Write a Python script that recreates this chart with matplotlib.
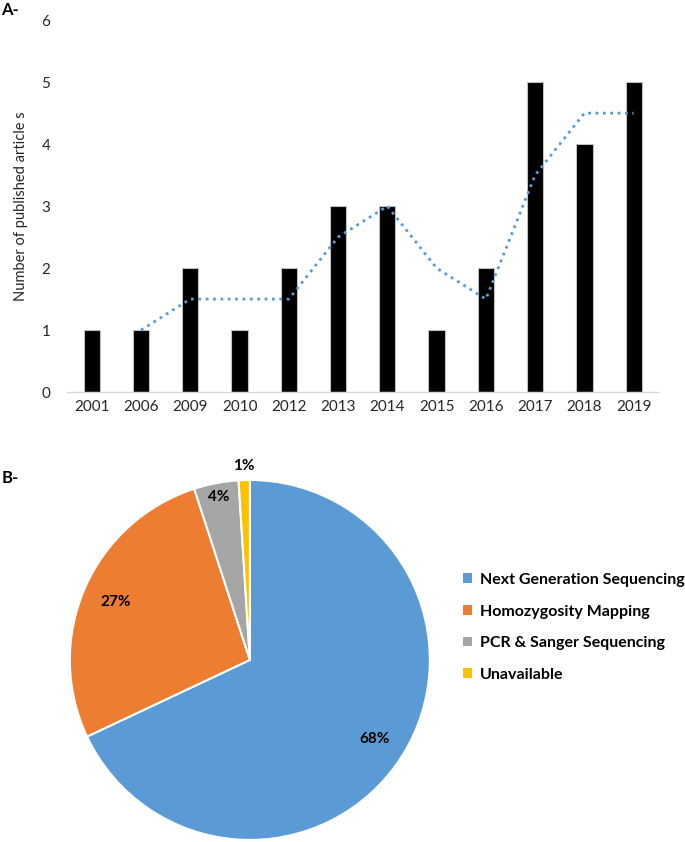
import numpy as np
import matplotlib
matplotlib.use("Agg")
import matplotlib.pyplot as plt
from matplotlib.patches import Patch

plt.rcParams['font.family'] = ['Lato', 'DejaVu Sans']

# Panel A data
years = ['2001', '2006', '2009', '2010', '2012', '2013', '2014', '2015', '2016', '2017', '2018', '2019']
articles = [1, 1, 2, 1, 2, 3, 3, 1, 2, 5, 4, 5]
# moving-average trend line (starts at 2006)
trend_years = ['2006', '2009', '2010', '2012', '2013', '2014', '2015', '2016', '2017', '2018', '2019']
trend_values = [1, 1.5, 1.5, 1.5, 2.5, 3, 2, 1.5, 3.5, 4.5, 4.5]

# Panel B data
methods = ['Next Generation Sequencing', 'Homozygosity Mapping', 'PCR & Sanger Sequencing', 'Unavailable']
shares = [68, 27, 4, 1]
pie_colors = ['#5B9BD5', '#ED7D31', '#A5A5A5', '#FFC000']

fig = plt.figure(figsize=(6.85, 8.42), dpi=100)

# ---- Panel A: bar chart ----
ax1 = fig.add_axes([0.098, 0.5344, 0.863, 0.4416])
x = np.arange(len(years))
ax1.bar(x, articles, width=0.33, color='black', edgecolor='#bfbfbf', linewidth=0.8, zorder=2)
trend_x = [years.index(y) for y in trend_years]
ax1.plot(trend_x, trend_values, color='#5B9BD5', linestyle=':', linewidth=2.0, zorder=3)

ax1.set_xlim(-0.5, len(years) - 0.5)
ax1.set_ylim(0, 6)
ax1.set_xticks(x)
ax1.set_xticklabels(years)
ax1.set_yticks(range(0, 7))
ax1.tick_params(axis='both', length=0, labelsize=11, colors='#262626')
ax1.tick_params(axis='y', pad=12)
ax1.tick_params(axis='x', pad=6)
for side in ['top', 'right', 'left']:
    ax1.spines[side].set_visible(False)
ax1.spines['bottom'].set_color('#d9d9d9')
ax1.spines['bottom'].set_linewidth(1.0)
ax1.set_ylabel('Number of published article s', fontsize=10.5, color='#262626', labelpad=10)

fig.text(0.002, 0.988, 'A-', fontsize=12, fontweight='bold', va='center', ha='left')

# ---- Panel B: pie chart ----
ax2 = fig.add_axes([0.102, 0.0024, 0.5255, 0.4276])
wedges, _ = ax2.pie(shares, colors=pie_colors, startangle=90, counterclock=False,
                    wedgeprops=dict(edgecolor='white', linewidth=1.5))
ax2.set_xlim(-1, 1)
ax2.set_ylim(-1, 1)
ax2.set_aspect('equal')

label_radius = [0.82, 0.81, 0.92, 1.08]
for w, share, r in zip(wedges, shares, label_radius):
    ang = np.deg2rad((w.theta1 + w.theta2) / 2)
    ax2.text(r * np.cos(ang), r * np.sin(ang), f'{share}%', ha='center', va='center',
             fontsize=11, fontweight='bold', color='black', clip_on=False)

handles = [Patch(facecolor=c, edgecolor='none') for c in pie_colors]
leg = fig.legend(handles, methods, loc='center left', bbox_to_anchor=(0.655, 0.255),
                 frameon=False, handlelength=0.55, handleheight=0.55, handletextpad=0.5,
                 labelspacing=1.1, prop={'size': 11.5, 'weight': 'bold'})

fig.text(0.002, 0.432, 'B-', fontsize=12, fontweight='bold', va='center', ha='left')

fig.savefig('out.png', dpi=100)
